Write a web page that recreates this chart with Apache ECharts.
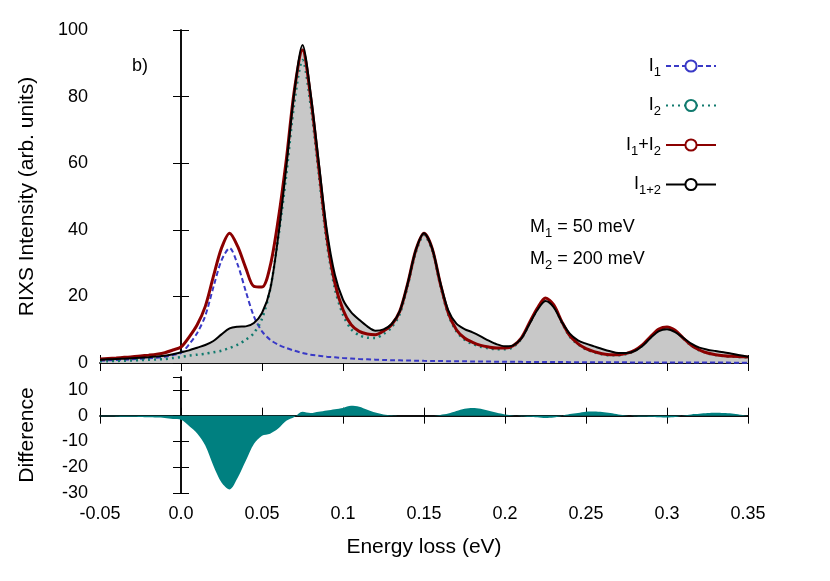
<!DOCTYPE html>
<html>
<head>
<meta charset="utf-8">
<script src="https://cdn.jsdelivr.net/npm/echarts@6/dist/echarts.min.js"></script>
<style>html,body{margin:0;padding:0;background:#fff;}#chart{width:830px;height:581px;}</style>
</head>
<body>
<div id="chart"></div>
<script>
// energy loss (eV), step 0.005
const energy = [-0.05,-0.045,-0.04,-0.035,-0.03,-0.025,-0.02,-0.015,-0.01,-0.005,
  0,0.005,0.01,0.015,0.02,0.025,0.03,0.035,0.04,0.045,
  0.05,0.055,0.06,0.065,0.07,0.075,0.08,0.085,0.09,0.095,
  0.1,0.105,0.11,0.115,0.12,0.125,0.13,0.135,0.14,0.145,
  0.15,0.155,0.16,0.165,0.17,0.175,0.18,0.185,0.19,0.195,
  0.2,0.205,0.21,0.215,0.22,0.225,0.23,0.235,0.24,0.245,
  0.25,0.255,0.26,0.265,0.27,0.275,0.28,0.285,0.29,0.295,
  0.3,0.305,0.31,0.315,0.32,0.325,0.33,0.335,0.34,0.345,0.35];

const i1 = [0.7,0.8,0.9,1.0,1.1,1.25,1.4,1.6,1.9,2.4,
  3.0,5.6,9.0,14.2,22.8,30.8,34.5,29.5,21.5,14,
  9.5,7.0,5.5,4.5,3.7,3.0,2.5,2.2,1.9,1.7,
  1.5,1.35,1.2,1.1,1.0,0.9,0.85,0.8,0.75,0.7,
  0.65,0.62,0.58,0.55,0.52,0.5,0.47,0.45,0.42,0.4,
  0.38,0.36,0.34,0.32,0.3,0.29,0.28,0.27,0.26,0.25,
  0.24,0.23,0.22,0.21,0.2,0.19,0.18,0.17,0.16,0.16,
  0.15,0.15,0.14,0.14,0.13,0.13,0.12,0.12,0.11,0.11,0.1];

const i2 = [0.5,0.55,0.6,0.7,0.75,0.85,0.95,1.05,1.2,1.5,
  1.8,2.2,2.5,2.8,3.2,3.7,4.5,5.5,7,9,
  13.3,22,37.5,56.5,78.3,91,77.5,56.8,36.1,22.3,
  14.5,10.2,8.3,7.6,7.5,8.7,10.7,14.7,23.3,33.3,
  38.4,33.9,23.4,14.5,9.5,7.0,5.7,4.9,4.4,4.1,
  4.1,4.8,7.2,11.7,16.2,19.2,17.2,12.2,7.9,5.6,
  4.1,3.2,2.6,2.3,2.3,2.7,3.6,5.3,7.8,10.0,
  10.7,9.7,7.4,5.2,3.8,2.9,2.4,2.1,1.9,1.8,1.7];

const iSum = [1.2,1.35,1.5,1.7,1.85,2.1,2.35,2.65,3.1,3.9,
  4.8,7.8,11.5,17,26,34.5,39,35,28.5,23,
  22.8,29,43,61,82,94,80,59,38,24,
  16,11.5,9.5,8.7,8.5,9.6,11.5,15.5,24,34,
  39,34.5,24,15,10,7.5,6.2,5.3,4.8,4.5,
  4.5,5.2,7.5,12,16.5,19.5,17.5,12.5,8.2,5.8,
  4.3,3.4,2.8,2.5,2.5,2.9,3.8,5.5,8,10.2,
  10.8,9.8,7.5,5.3,3.9,3.0,2.5,2.2,2.0,1.9,1.8];

const iJoint = [1.0,1.1,1.2,1.3,1.45,1.6,1.75,1.95,2.2,2.6,
  3.2,3.8,4.6,5.4,6.6,8.6,10.4,10.9,11.0,12,
  15,22,38,59,81.5,95.5,81,60.5,40,26.5,
  19,15.3,13,11,9.7,10.1,11.7,15.5,24,34,
  39,34.5,24.3,15.8,11.8,10.2,9.2,8.0,6.7,5.6,
  5.0,5.3,7.3,11.6,15.9,18.6,16.8,12.4,8.8,6.8,
  5.8,5.0,4.2,3.5,3.0,3.0,3.6,5.2,7.6,9.6,
  10.1,9.3,7.6,5.8,4.6,4.0,3.6,3.2,2.8,2.3,1.9];

const diff = [-0.2,-0.25,-0.3,-0.4,-0.4,-0.5,-0.6,-0.7,-0.9,-1.3,
  -1.6,-4.0,-6.9,-11.6,-19.4,-25.9,-28.6,-24.1,-17.5,-11,
  -7.8,-7,-5,-2,-0.5,1.5,1,1.5,2,2.5,
  3,3.8,3.5,2.3,1.2,0.5,0.2,0,0,0,
  0,0,0.3,0.8,1.8,2.7,3.0,2.7,1.9,1.1,
  0.5,0.1,-0.2,-0.4,-0.6,-0.9,-0.7,-0.1,0.6,1.0,
  1.5,1.6,1.4,1.0,0.5,0.1,-0.2,-0.3,-0.4,-0.6,
  -0.7,-0.5,0.1,0.5,0.7,1.0,1.1,1.0,0.8,0.4,0.1];

const pairs = arr => energy.map((x, i) => [x, arr[i]]);
const font = 'Liberation Sans, Arial, sans-serif';
const chart = echarts.init(document.getElementById('chart'));

const tickStyle = { show: true, inside: true, length: 8, lineStyle: { color: '#000', width: 1 } };
const lineAx = { show: true, lineStyle: { color: '#000', width: 1.5 } };
const xBase = { type: 'value', min: -0.05, max: 0.35, interval: 0.05, splitLine: { show: false }, axisLine: lineAx, axisTick: tickStyle };
const lbl = { color: '#000', fontSize: 18, fontFamily: font };
const xFmt = v => { const s = v.toFixed(2); return s.endsWith('0') ? v.toFixed(1) : s; };

chart.setOption({
  animation: false,
  grid: [
    { left: 100, right: 82, top: 30, height: 333 },
    { left: 100, right: 82, top: 377, height: 116 }
  ],
  xAxis: [
    Object.assign({}, xBase, { gridIndex: 0, axisLabel: { show: false } }),
    Object.assign({}, xBase, { gridIndex: 0, position: 'top', axisLabel: { show: false } }),
    Object.assign({}, xBase, { gridIndex: 1, axisLabel: Object.assign({}, lbl, { margin: 12, formatter: xFmt }),
      name: 'Energy loss (eV)', nameLocation: 'middle', nameGap: 44, nameTextStyle: { color: '#000', fontSize: 21, fontFamily: font } }),
    Object.assign({}, xBase, { gridIndex: 1, position: 'top', axisLabel: { show: false } })
  ],
  yAxis: [
    { type: 'value', gridIndex: 0, min: 0, max: 100, interval: 20, splitLine: { show: false }, axisLine: lineAx, axisTick: tickStyle,
      axisLabel: Object.assign({}, lbl, { margin: 12 }),
      name: 'RIXS Intensity (arb. units)', nameLocation: 'middle', nameGap: 62, nameTextStyle: { color: '#000', fontSize: 21, fontFamily: font } },
    { type: 'value', gridIndex: 0, position: 'right', min: 0, max: 100, interval: 20, splitLine: { show: false }, axisLine: lineAx, axisTick: tickStyle, axisLabel: { show: false } },
    { type: 'value', gridIndex: 1, min: -30, max: 15, interval: 10, splitLine: { show: false }, axisLine: lineAx, axisTick: tickStyle,
      axisLabel: Object.assign({}, lbl, { margin: 12, showMaxLabel: false, formatter: v => v > 10 ? '' : String(v) }),
      name: 'Difference', nameLocation: 'middle', nameGap: 62, nameTextStyle: { color: '#000', fontSize: 21, fontFamily: font } },
    { type: 'value', gridIndex: 1, position: 'right', min: -30, max: 15, interval: 10, splitLine: { show: false }, axisLine: lineAx, axisTick: tickStyle, axisLabel: { show: false } }
  ],
  legend: {
    orient: 'vertical', right: 108, top: 52, align: 'right', itemWidth: 50, itemHeight: 14, itemGap: 18,
    data: ['I1', 'I2', 'I1+I2', 'I1+2'],
    formatter: n => ({ 'I1': 'I{s|1}', 'I2': 'I{s|2}', 'I1+I2': 'I{s|1}+I{s|2}', 'I1+2': 'I{s|1+2}' })[n],
    textStyle: { color: '#000', fontSize: 18, fontFamily: font, rich: { s: { fontSize: 13, padding: [12, 0, 0, 0], fontFamily: font } } }
  },
  graphic: [
    { type: 'text', left: 132, top: 57, style: { text: 'b)', fontSize: 18, fontFamily: font, fill: '#000' } },
    { type: 'text', left: 530, top: 218, style: { rich: { n: { fontSize: 18, fontFamily: font }, s: { fontSize: 13, fontFamily: font, padding: [12, 0, 0, 0] } }, text: '{n|M}{s|1}{n| = 50 meV}', fill: '#000' } },
    { type: 'text', left: 530, top: 250, style: { rich: { n: { fontSize: 18, fontFamily: font }, s: { fontSize: 13, fontFamily: font, padding: [12, 0, 0, 0] } }, text: '{n|M}{s|2}{n| = 200 meV}', fill: '#000' } }
  ],
  series: [
    { name: 'fill', type: 'line', xAxisIndex: 0, yAxisIndex: 0, data: pairs(iJoint), smooth: 0.3, showSymbol: false, lineStyle: { width: 0 }, areaStyle: { color: '#c8c8c8', opacity: 1 }, z: 1 },
    { name: 'I1', type: 'line', xAxisIndex: 0, yAxisIndex: 0, data: pairs(i1), smooth: 0.3, showSymbol: false, lineStyle: { color: '#3939c6', width: 2, type: [5, 3] }, itemStyle: { color: '#3939c6' }, z: 3 },
    { name: 'I2', type: 'line', xAxisIndex: 0, yAxisIndex: 0, data: pairs(i2), smooth: 0.3, showSymbol: false, lineStyle: { color: '#117a6e', width: 2.5, type: [2, 4] }, itemStyle: { color: '#117a6e' }, z: 3 },
    { name: 'I1+I2', type: 'line', xAxisIndex: 0, yAxisIndex: 0, data: pairs(iSum), smooth: 0.3, showSymbol: false, lineStyle: { color: '#8b0000', width: 3 }, itemStyle: { color: '#8b0000' }, z: 4 },
    { name: 'I1+2', type: 'line', xAxisIndex: 0, yAxisIndex: 0, data: pairs(iJoint), smooth: 0.3, showSymbol: false, lineStyle: { color: '#000', width: 2 }, itemStyle: { color: '#000' }, z: 5 },
    { name: 'diff', type: 'line', xAxisIndex: 2, yAxisIndex: 2, data: pairs(diff), smooth: 0.3, showSymbol: false, lineStyle: { width: 0 }, areaStyle: { color: '#008080', opacity: 1 }, z: 2 }
  ]
});
</script>
</body>
</html>
